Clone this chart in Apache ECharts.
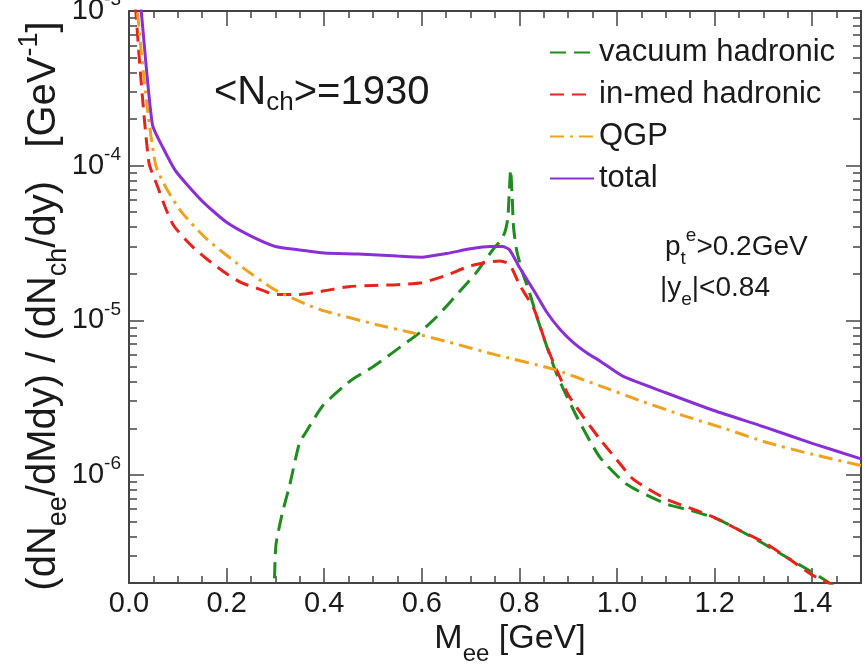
<!DOCTYPE html>
<html>
<head>
<meta charset="utf-8">
<script src="https://cdn.jsdelivr.net/npm/echarts@6/dist/echarts.min.js"></script>
<style>
html, body { margin: 0; padding: 0; background: #fff; }
#chart { width: 865px; height: 670px; }
</style>
</head>
<body>
<div id="chart"></div>
<script>
// Datos: masa M_ee [GeV] y espectro por canal
const vacuumM = [0.297, 0.301, 0.315, 0.329, 0.349, 0.363, 0.397, 0.438, 0.459, 0.5, 0.541, 0.595, 0.63, 0.657, 0.69, 0.712, 0.73, 0.746, 0.76, 0.77, 0.776, 0.779, 0.782, 0.785, 0.788, 0.794, 0.805, 0.821, 0.838, 0.856, 0.875, 0.89, 0.92, 0.965, 1.02, 1.1, 1.15, 1.205, 1.25, 1.3, 1.35, 1.41, 1.44, 1.46];
const vacuumY = [1.5e-7, 3.5e-7, 5.8e-7, 8.5e-7, 1.6e-6, 1.9e-6, 2.8e-6, 3.7e-6, 4.17e-6, 5.0e-6, 6.2e-6, 8.3e-6, 1.05e-5, 1.3e-5, 1.7e-5, 2.04e-5, 2.45e-5, 2.87e-5, 3.24e-5, 3.7e-5, 4.5e-5, 6.5e-5, 9.4e-5, 6.5e-5, 4.0e-5, 2.87e-5, 2.1e-5, 1.5e-5, 1.0e-5, 6.8e-6, 4.6e-6, 3.6e-6, 2.3e-6, 1.3e-6, 8.7e-7, 6.5e-7, 5.9e-7, 5.2e-7, 4.4e-7, 3.6e-7, 2.9e-7, 2.25e-7, 1.95e-7, 1.7e-7];

const inmedM = [0.01, 0.024, 0.041, 0.058, 0.075, 0.092, 0.125, 0.16, 0.2, 0.23, 0.27, 0.3, 0.35, 0.4, 0.45, 0.5, 0.55, 0.6, 0.65, 0.7, 0.76, 0.78, 0.8, 0.83, 0.856, 0.876, 0.9, 0.93, 0.965, 1.0, 1.033, 1.1, 1.15, 1.2, 1.25, 1.3, 1.35, 1.4, 1.44, 1.46];
const inmedY = [1.5e-3, 3.77e-4, 1.04e-4, 7.4e-5, 5.3e-5, 4.07e-5, 3.1e-5, 2.48e-5, 2.0e-5, 1.75e-5, 1.58e-5, 1.47e-5, 1.47e-5, 1.55e-5, 1.65e-5, 1.68e-5, 1.7e-5, 1.75e-5, 1.95e-5, 2.25e-5, 2.42e-5, 2.3e-5, 1.7e-5, 1.18e-5, 6.8e-6, 4.8e-6, 3.3e-6, 2.4e-6, 1.7e-6, 1.25e-6, 9.4e-7, 7.0e-7, 6.1e-7, 5.3e-7, 4.4e-7, 3.68e-7, 2.9e-7, 2.25e-7, 1.95e-7, 1.7e-7];

const qgpM = [0.012, 0.025, 0.038, 0.055, 0.078, 0.109, 0.16, 0.229, 0.298, 0.363, 0.4, 0.506, 0.58, 0.657, 0.75, 0.869, 0.965, 1.05, 1.136, 1.22, 1.307, 1.4, 1.5];
const qgpY = [1.5e-3, 5.5e-4, 2.3e-4, 1.0e-4, 7.0e-5, 4.95e-5, 3.34e-5, 2.24e-5, 1.58e-5, 1.27e-5, 1.15e-5, 9.4e-6, 8.3e-6, 7.2e-6, 6.0e-6, 4.83e-6, 3.77e-6, 3.0e-6, 2.42e-6, 2.0e-6, 1.62e-6, 1.36e-6, 1.15e-6];

const totalM = [0.015, 0.025, 0.048, 0.07, 0.096, 0.15, 0.2, 0.25, 0.3, 0.35, 0.4, 0.47, 0.55, 0.6, 0.65, 0.7, 0.74, 0.765, 0.78, 0.8, 0.83, 0.855, 0.883, 0.91, 0.94, 0.965, 1.012, 1.1, 1.2, 1.3, 1.4, 1.5];
const totalY = [2.0e-3, 1.0e-3, 1.84e-4, 1.3e-4, 9.2e-5, 5.9e-5, 4.3e-5, 3.5e-5, 3.0e-5, 2.85e-5, 2.72e-5, 2.68e-5, 2.6e-5, 2.56e-5, 2.7e-5, 2.9e-5, 3.0e-5, 3.0e-5, 2.85e-5, 2.2e-5, 1.55e-5, 1.14e-5, 8.75e-6, 7.2e-6, 6.1e-6, 5.46e-6, 4.35e-6, 3.4e-6, 2.6e-6, 2.05e-6, 1.6e-6, 1.27e-6];

// Ejes
const xLabels = [0, 0.2, 0.4, 0.6, 0.8, 1.0, 1.2, 1.4];
const yDecades = [1e-6, 1e-5, 1e-4, 1e-3];
const yMantissas = [2, 3, 4, 5, 6, 7, 8, 9];
const yMin = 2e-7;
const yMax = 1e-3;

const FONT = 'Liberation Sans';
const AXIS_COLOR = '#444';
const TEXT_COLOR = '#1a1a1a';

const yMinorTicks = [1e-7, 1e-6, 1e-5, 1e-4]
    .flatMap(d => yMantissas.map(m => m * d))
    .filter(v => v > yMin * 1.001 && v < yMax);

function parejas(xs, ys) {
    return xs.map((x, i) => [x, ys[i]]);
}

// estilos de texto enriquecido para sub/superindices
function richStyles(size, subSize, lh) {
    return {
        b: {fontFamily: FONT, fontSize: size, lineHeight: lh, color: TEXT_COLOR},
        sub: {fontFamily: FONT, fontSize: subSize, lineHeight: subSize, verticalAlign: 'bottom', color: TEXT_COLOR},
        sup: {fontFamily: FONT, fontSize: subSize, lineHeight: subSize, verticalAlign: 'top', color: TEXT_COLOR}
    };
}

function ejeY(position, withLabels, ticks, len) {
    return {
        type: 'log', position: position, min: yMin, max: yMax, logBase: 10,
        axisLine: {show: true, lineStyle: {color: AXIS_COLOR, width: 2}},
        axisTick: {show: true, inside: true, length: len, customValues: ticks,
            lineStyle: {color: AXIS_COLOR, width: 1.5}},
        axisLabel: withLabels ? {
            show: true,
            customValues: yDecades,
            margin: 8,
            formatter: v => '{b|10}{sup|' + Math.round(Math.log10(v)) + '}',
            rich: richStyles(29, 19, 41)
        } : {show: false},
        splitLine: {show: false},
        minorTick: {show: false},
        minorSplitLine: {show: false}
    };
}

function ejeX(position, withLabels) {
    return {
        type: 'value', position: position, min: 0, max: 1.5, interval: 0.2,
        name: withLabels ? 'M{sub|ee} [GeV]' : '',
        nameLocation: 'middle',
        nameGap: 29,
        nameMoveOverlap: false,
        nameTextStyle: {fontFamily: FONT, fontSize: 34, lineHeight: 54, color: TEXT_COLOR,
            padding: [0, 0, 0, 30], rich: richStyles(34, 24, 54)},
        axisLine: {show: true, lineStyle: {color: AXIS_COLOR, width: 2}},
        axisTick: {show: true, inside: true, length: 15, lineStyle: {color: AXIS_COLOR, width: 1.5}},
        minorTick: {show: true, splitNumber: 4, length: 7, lineStyle: {color: AXIS_COLOR, width: 1.5}},
        axisLabel: withLabels ? {
            show: true, margin: 6, fontFamily: FONT, fontSize: 29, color: TEXT_COLOR, showMaxLabel: false,
            formatter: v => (xLabels.some(t => Math.abs(t - v) < 1e-6) ? v.toFixed(1) : '')
        } : {show: false},
        splitLine: {show: false}
    };
}

const chart = echarts.init(document.getElementById('chart'));

const yAxes = [
    ejeY('left', true, yDecades, 15),
    ejeY('left', false, yMinorTicks, 8),
    ejeY('right', false, yDecades, 15),
    ejeY('right', false, yMinorTicks, 8)
];
yAxes[0].name = '(dN{sub|ee}/dMdy) / (dN{sub|ch}/dy)   [GeV{sup|-1}]';
yAxes[0].nameLocation = 'middle';
yAxes[0].nameGap = 57;
yAxes[0].nameMoveOverlap = false;
yAxes[0].nameTextStyle = {fontFamily: FONT, fontSize: 40, lineHeight: 56, color: TEXT_COLOR,
    padding: [0, 18, 0, 0], rich: richStyles(40, 27, 56)};

// Grafico base: ejes y curvas
chart.setOption({
    backgroundColor: '#fff',
    animation: false,
    grid: {left: 129, right: 4, top: 11, bottom: 87, containLabel: false, outerBoundsMode: 'none'},
    xAxis: [ejeX('bottom', true), ejeX('top', false)],
    yAxis: yAxes,
    series: [
        {name: 'vacuum hadronic', type: 'line', data: parejas(vacuumM, vacuumY), symbol: 'none', smooth: 0.2,
            color: '#1f8c1f', lineStyle: {width: 3, type: [16, 8], color: '#1f8c1f'}},
        {name: 'in-med hadronic', type: 'line', data: parejas(inmedM, inmedY), symbol: 'none', smooth: 0.2,
            color: '#e8231b', lineStyle: {width: 3, type: [14, 8], color: '#e8231b'}},
        {name: 'QGP', type: 'line', data: parejas(qgpM, qgpY), symbol: 'none', smooth: 0.2,
            color: '#eea21f', lineStyle: {width: 3, type: [14, 6, 3, 6], color: '#eea21f'}},
        {name: 'total', type: 'line', data: parejas(totalM, totalY), symbol: 'none', smooth: 0.2,
            color: '#8a2ed6', lineStyle: {width: 3, type: 'solid', color: '#8a2ed6'}}
    ]
});

// Leyenda
chart.setOption({
    legend: {
        orient: 'vertical', left: 544, top: 32, itemWidth: 44, itemHeight: 14, itemGap: 11,
        itemStyle: {opacity: 0},
        textStyle: {fontFamily: FONT, fontSize: 31, lineHeight: 30, color: TEXT_COLOR},
        data: ['vacuum hadronic', 'in-med hadronic', 'QGP', 'total']
    }
});

// Anotaciones
chart.setOption({
    graphic: [
        {id: 'nch', type: 'text', left: 214, top: 70,
            style: {text: '<N{sub|ch}>=1930', rich: richStyles(40, 26, 46),
                fontFamily: FONT, fontSize: 40, lineHeight: 46, fill: TEXT_COLOR}},
        {id: 'pt', type: 'text', left: 665, top: 226,
            style: {text: 'p{sub|t}{sup|e}>0.2GeV', rich: richStyles(28, 19, 42),
                fontFamily: FONT, fontSize: 28, lineHeight: 42, fill: TEXT_COLOR}},
        {id: 'ye', type: 'text', left: 660, top: 267,
            style: {text: '|y{sub|e}|<0.84', rich: richStyles(28, 19, 42),
                fontFamily: FONT, fontSize: 28, lineHeight: 42, fill: TEXT_COLOR}}
    ]
});

window.addEventListener('resize', () => chart.resize());
</script>
</body>
</html>
